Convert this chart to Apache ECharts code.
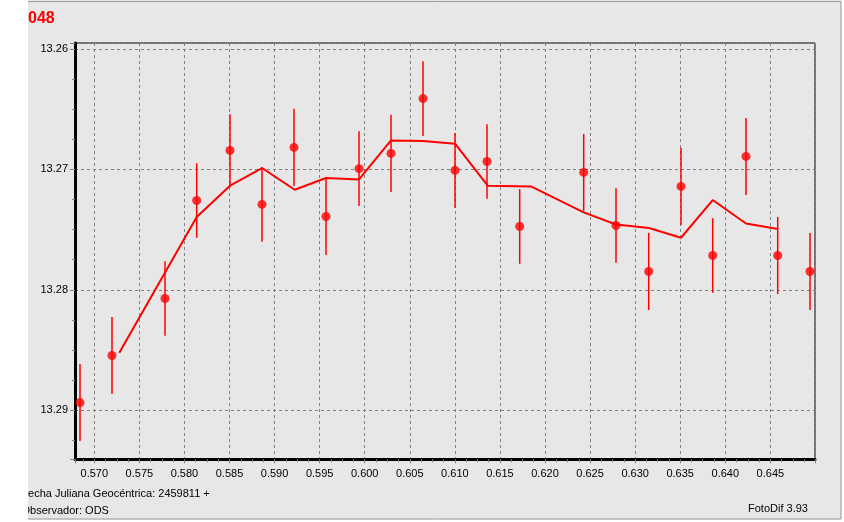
<!DOCTYPE html>
<html>
<head>
<meta charset="utf-8">
<script src="https://cdn.jsdelivr.net/npm/echarts@6/dist/echarts.min.js"></script>
<style>html,body{margin:0;padding:0;background:#fff}#c{width:844px;height:522px}</style>
</head>
<body>
<div id="c"></div>
<script>
// Observed points: JD fraction, magnitude, error
const obsX = [0.568414,0.571964,0.577843,0.581360,0.585054,0.588605,0.592155,0.595705,0.599366,0.602916,0.606466,0.610016,0.613566,0.617193,0.624293,0.627877,0.631504,0.635088,0.638604,0.642299,0.645816,0.649399];
const obsMag = [13.28937,13.28546,13.28072,13.27258,13.26842,13.27291,13.26817,13.27391,13.26994,13.26867,13.26412,13.27008,13.26934,13.27474,13.27025,13.27466,13.27848,13.27141,13.27715,13.26892,13.27715,13.27848];
const obsErr = [0.0032,0.0032,0.0031,0.0031,0.0030,0.0031,0.0032,0.0032,0.0031,0.0032,0.0031,0.0031,0.0031,0.0031,0.0032,0.0031,0.0032,0.0032,0.0031,0.0032,0.0032,0.0032];
// Fitted curve vertices
const fitX = [0.572773,0.581360,0.585054,0.588605,0.592232,0.595705,0.599366,0.602916,0.606466,0.610016,0.613644,0.618448,0.624293,0.627877,0.631538,0.635088,0.638604,0.642299,0.645849];
const fitMag = [13.285237,13.273957,13.271355,13.269884,13.271688,13.270715,13.270831,13.267589,13.267639,13.267864,13.271355,13.271413,13.273574,13.274572,13.274871,13.275677,13.272544,13.274489,13.274954];
// Axis ranges
const xRange = [0.567859, 0.649953];
const yRange = [13.2595, 13.29408];

const FONT = 'Liberation Sans';
const chart = echarts.init(document.getElementById('c'), null, {renderer: 'canvas'});
const pts = obsX.map((x, i) => [x, obsMag[i], obsErr[i]]);
const fit = fitX.map((x, i) => [x, fitMag[i]]);

chart.setOption({
  animation: false,
  backgroundColor: '#e7e7e8',
  grid: {left: 75, top: 43, width: 740, height: 416.3, show: true, borderColor: '#000', borderWidth: 1, backgroundColor: 'transparent'},
  xAxis: {
    type: 'value', min: xRange[0], max: xRange[1], splitNumber: 16, minInterval: 0.005, maxInterval: 0.005,
    axisLine: {show: true, onZero: false, lineStyle: {color: '#000', width: 3}},
    axisTick: {show: true, length: 4, lineStyle: {color: '#808080'}},
    minorTick: {show: true, splitNumber: 4, length: 3, lineStyle: {color: '#808080'}},
    axisLabel: {showMinLabel: false, showMaxLabel: false, margin: 9, color: '#000', fontFamily: FONT, fontSize: 11,
      formatter: v => v.toFixed(3)},
    splitLine: {show: true, lineStyle: {color: '#808080', type: [3, 3], width: 1}}
  },
  yAxis: {
    type: 'value', inverse: true, min: yRange[0], max: yRange[1], splitNumber: 3, minInterval: 0.01, maxInterval: 0.01,
    axisLine: {show: true, onZero: false, lineStyle: {color: '#000', width: 3}},
    axisTick: {show: true, length: 5, lineStyle: {color: '#808080'}},
    minorTick: {show: true, splitNumber: 4, length: 3, lineStyle: {color: '#808080'}},
    axisLabel: {showMinLabel: false, showMaxLabel: false, margin: 7, color: '#000', fontFamily: FONT, fontSize: 11,
      formatter: v => v.toFixed(2)},
    splitLine: {show: true, lineStyle: {color: '#808080', type: [3, 3], width: 1}}
  },
  series: [
    {
      type: 'line', data: fit, symbol: 'none', lineStyle: {color: '#ff0000', width: 2}, z: 3
    },
    {
      type: 'custom', data: pts, z: 4,
      renderItem: (params, api) => {
        const x = api.value(0), y = api.value(1), e = api.value(2);
        const p1 = api.coord([x, y - e]);
        const p2 = api.coord([x, y + e]);
        return {type: 'line', shape: {x1: p1[0], y1: p1[1], x2: p2[0], y2: p2[1]}, style: {stroke: '#ff0000', lineWidth: 1.5}};
      }
    },
    {
      type: 'scatter', data: pts.map(p => [p[0], p[1]]), symbol: 'circle', symbolSize: 9,
      itemStyle: {color: '#ff0000'}, z: 5
    }
  ],
  graphic: [
    {type: 'text', left: 28, top: 11, z: 50, style: {text: '048', fill: '#ff0000', font: 'bold 16px "Liberation Sans"'}},
    {type: 'text', x: 21.3, y: 494, z: 50, style: {text: 'Fecha Juliana Geocéntrica: 2459811 +', fill: '#000', font: '11px "Liberation Sans"', verticalAlign: 'middle'}},
    {type: 'text', x: 21.5, y: 510.5, z: 50, style: {text: 'Observador: ODS', fill: '#000', font: '11px "Liberation Sans"', verticalAlign: 'middle'}},
    {type: 'text', x: 748, y: 508.5, z: 50, style: {text: 'FotoDif 3.93', fill: '#000', font: '11px "Liberation Sans"', verticalAlign: 'middle'}},
    {type: 'rect', shape: {x: 0, y: 0, width: 28, height: 522}, style: {fill: '#ffffff'}, z: 100},
    {type: 'rect', shape: {x: 0, y: 519.5, width: 844, height: 3}, style: {fill: '#ffffff'}, z: 100},
    {type: 'rect', shape: {x: 841.5, y: 0, width: 3, height: 522}, style: {fill: '#ffffff'}, z: 100},
    {type: 'polyline', shape: {points: [[28, 1.5], [841, 1.5], [841, 519], [28, 519]]}, style: {stroke: '#9a9a9a', lineWidth: 1, fill: null}, z: 101}
  ]
});
</script>
</body>
</html>
